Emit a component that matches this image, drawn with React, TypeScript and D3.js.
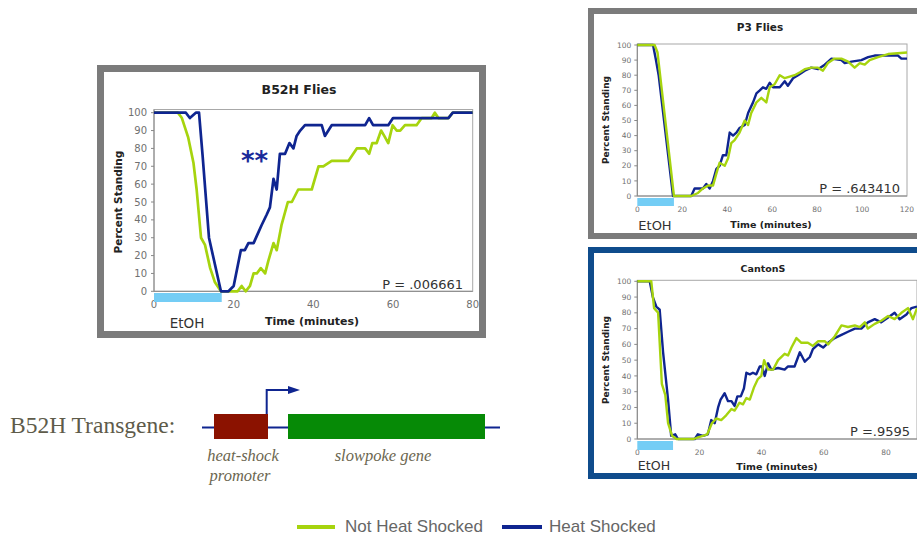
import * as d3 from "d3"
import { useEffect } from "react"

type Pt = [number, number]

// B52H flies
const b52hHeat: Pt[] = [[0,100],[8,100],[9,97],[10.5,100],[11.3,100],[12.2,76],[13.8,30],[16.8,0],[18.7,0],[20,3],[21.8,23],[22.8,23],[23.7,27],[25,27],[26.2,33],[27,37],[28.3,43],[29.1,47],[30,63],[30.8,57],[31.6,77],[32.9,77],[34,83],[35,80],[35.8,87],[36.7,90],[37.9,93],[42.1,93],[42.9,87],[44.6,93],[53,93],[54,97],[55,93],[58.8,93],[60,97],[73.9,97],[75,100],[80,100]]
const b52hNot: Pt[] = [[0,100],[6,100],[7,97],[8.6,86],[9.9,72],[10.7,57],[11.8,30],[12.8,26],[14.1,13],[15.3,5],[16.8,0],[21,0],[22,3],[23,0],[24.1,3],[25,10],[25.8,10],[26.8,13],[27.9,10],[28.7,17],[30,27],[30.8,23],[32,37],[33.6,50],[34.6,50],[36.2,57],[39.6,57],[41.3,70],[42.5,70],[44.6,73],[48.8,73],[50.9,80],[53,80],[54,77],[54.8,83],[55.9,83],[57,90],[57.8,87],[58.8,83],[59.9,93],[60.9,90],[61.8,90],[63,93],[65.9,93],[67.2,97],[69.7,97],[70.5,100],[71.4,97],[73.9,97],[75,100],[80,100]]

// P3 flies
const p3Heat: Pt[] = [[0,100],[7,100],[8.3,90],[9.5,80],[15.9,0],[24,0],[25.5,5],[27,5],[29.2,5],[30.7,8],[32.2,5],[33.7,10],[35.2,18],[36.6,20],[38.1,27],[39.6,27],[41.1,42],[42.6,40],[44.1,42],[45.5,45],[47.8,47],[49.3,55],[51.5,62],[53,68],[54.5,70],[55.9,72],[57.4,71],[58.9,75],[60.4,72],[63.4,72],[65.6,76],[67,73],[69.3,78],[71.5,80],[74.5,83],[77.4,85],[80.4,84],[83.4,87],[86.4,91],[90.8,90],[92.3,88],[95.3,89],[99.7,90],[102.7,92],[105.6,93],[111.6,93],[116,93],[117.5,91],[120,91]]
const p3Not: Pt[] = [[0,100],[7.7,100],[9,95],[16.3,0],[24,0],[27,2],[29.2,5],[31.5,7],[33.7,7],[35.2,15],[36.6,22],[38.9,20],[40.4,25],[41.8,35],[43.3,37],[45.5,42],[47.8,50],[49.3,47],[50.7,55],[53,62],[55.2,65],[57.4,62],[58.9,72],[61.1,74],[63.4,80],[65.6,78],[67.8,79],[70,80],[72.4,82],[74.5,84],[77.4,85],[80.4,85],[82.6,83],[84.8,88],[87.8,91],[90.8,91],[93.8,89],[96.7,85],[99,88],[101.2,87],[103.4,90],[107.1,92],[111.6,94],[120,95]]

// CantonS
const cantonHeat: Pt[] = [[0,100],[4,100],[5,90],[6.1,84],[7.2,82],[8.3,55],[9.9,25],[10.9,2],[12.2,3],[13.1,0],[18.5,0],[19.5,3],[21.1,2],[22.7,3],[23.8,12],[24.9,10],[26,20],[26.8,25],[28.1,29],[29.2,24],[30.3,24],[31.3,21],[32.2,27],[33.3,27],[34.3,32],[35.1,42],[36.2,41],[37.2,42],[38.3,41],[39.4,46],[40.1,46],[41,40],[42.1,48],[43.1,44],[45.3,45],[47.4,44],[48.5,46],[50.6,46],[52.3,55],[53.9,49],[55.5,52],[56.5,57],[58.2,60],[59.8,58],[61.4,61],[63.5,64],[65.7,66],[67.8,68],[70,70],[72.1,70],[74.2,74],[76.4,76],[78.5,74],[80.7,77],[82.8,80],[84.4,76],[86.6,79],[88.2,83],[90,84]]
const cantonNot: Pt[] = [[0,100],[4.5,100],[5.4,83],[6.7,80],[7.9,35],[9,28],[9.9,10],[11.2,2],[12.6,0],[18.2,0],[19.5,1],[21.1,2],[22.5,3],[24,10],[25.4,13],[27,12],[28.6,15],[30.3,19],[31.3,18],[32.9,23],[34,22],[35.1,26],[36.2,25],[37.6,33],[38.8,38],[39.9,40],[40.8,50],[42.1,44],[43.7,44],[45.3,50],[47.4,54],[48.5,53],[49.6,58],[51.2,64],[52.8,61],[54.9,61],[56.5,59],[58.2,62],[60.3,62],[61.4,60],[63.5,65],[65.7,72],[67.8,71],[70,72],[71.6,71],[73.2,74],[74.2,70],[76.4,73],[78.5,75],[80.7,78],[82.8,76],[85,80],[87.1,83],[88.7,76],[90,83]]

const yTicks = [0, 10, 20, 30, 40, 50, 60, 70, 80, 90, 100]
const b52hXTicks = [0, 20, 40, 60, 80]
const p3XTicks = [0, 20, 40, 60, 80, 100, 120]
const cantonXTicks = [0, 20, 40, 60, 80]

const GREEN = "#a6d40e"
const BLUE = "#0f2590"
const ETOH = "#74cdf5"
const SANS = "'DejaVu Sans', Verdana, sans-serif"
const SERIF = "'Liberation Serif', 'Times New Roman', serif"

type PanelProps = {
  title: string
  pText: string
  xMax: number
  xTicks: number[]
  x0: number
  x1: number
  y0: number
  y1: number
  frameTop: number
  etohEnd: number
  etohY: [number, number]
  heat: Pt[]
  not: Pt[]
  greenOnTop: boolean
  sw: number
  tickFs: number
  tickGap: number
  xTickY: number
  ylab: { x: number; y: number; fs: number }
  titlePos: { x: number; y: number; fs: number }
  xlab: { x: number; y: number; fs: number }
  etohText: { x: number; y: number; fs: number }
  pPos: { x: number; y: number; fs: number }
}

function Panel(p: PanelProps) {
  const x = d3.scaleLinear().domain([0, p.xMax]).range([p.x0, p.x1])
  const y = d3.scaleLinear().domain([0, 100]).range([p.y0, p.y1])
  const line = d3
    .line<Pt>()
    .x((d) => x(d[0]))
    .y((d) => y(d[1]))
  const blue = <path d={line(p.heat) ?? ""} fill="none" stroke={BLUE} strokeWidth={p.sw} strokeLinejoin="round" />
  const green = <path d={line(p.not) ?? ""} fill="none" stroke={GREEN} strokeWidth={p.sw} strokeLinejoin="round" />
  return (
    <g fontFamily={SANS}>
      <rect x={p.x0} y={p.frameTop} width={p.x1 - p.x0} height={p.y0 - p.frameTop} fill="#fff" stroke="#a8a8a8" strokeWidth={1} />
      <line x1={p.x0} x2={p.x0} y1={p.frameTop} y2={p.y0} stroke="#888" />
      <line x1={p.x0} x2={p.x1} y1={p.y0} y2={p.y0} stroke="#888" />
      {yTicks.map((t) => (
        <g key={"y" + t}>
          <line x1={p.x0 - 3} x2={p.x0} y1={y(t)} y2={y(t)} stroke="#888" />
          <text x={p.x0 - p.tickGap} y={y(t)} dy="0.35em" textAnchor="end" fontSize={p.tickFs} fill="#707070">
            {t}
          </text>
        </g>
      ))}
      {p.xTicks.map((t) => (
        <text key={"x" + t} x={x(t)} y={p.xTickY} dy="0.35em" textAnchor="middle" fontSize={p.tickFs} fill="#707070">
          {t}
        </text>
      ))}
      <rect x={x(0)} y={p.etohY[0]} width={x(p.etohEnd) - x(0)} height={p.etohY[1] - p.etohY[0]} fill={ETOH} />
      {p.greenOnTop ? [<g key="b">{blue}</g>, <g key="g">{green}</g>] : [<g key="g">{green}</g>, <g key="b">{blue}</g>]}
      <text x={p.titlePos.x} y={p.titlePos.y} dy="0.35em" textAnchor="middle" fontSize={p.titlePos.fs} fontWeight="bold" fill="#222">
        {p.title}
      </text>
      <text
        transform={`translate(${p.ylab.x},${p.ylab.y}) rotate(-90)`}
        dy="0.35em"
        textAnchor="middle"
        fontSize={p.ylab.fs}
        fontWeight="bold"
        fill="#222"
      >
        Percent Standing
      </text>
      <text x={p.xlab.x} y={p.xlab.y} dy="0.35em" textAnchor="middle" fontSize={p.xlab.fs} fontWeight="bold" fill="#222">
        Time (minutes)
      </text>
      <text x={p.etohText.x} y={p.etohText.y} dy="0.35em" textAnchor="middle" fontSize={p.etohText.fs} fill="#333">
        EtOH
      </text>
      <text x={p.pPos.x} y={p.pPos.y} dy="0.35em" textAnchor="end" fontSize={p.pPos.fs} fill="#333">
        {p.pText}
      </text>
    </g>
  )
}

export default function App() {
  useEffect(() => {
    document.body.style.margin = "0"
  }, [])

  return (
    <svg width={917} height={535} style={{ position: "absolute", left: 0, top: 0, background: "#fff" }}>
      {/* panel frames */}
      <rect x={100.5} y={68.5} width={382} height={266} fill="#fff" stroke="#7b7b7b" strokeWidth={7} />
      <rect x={591} y={11} width={340} height={225} fill="#fff" stroke="#7b7b7b" strokeWidth={6} />
      <rect x={591} y={250} width={340} height={226} fill="#fff" stroke="#0f4c8c" strokeWidth={6} />

      <Panel
        title="B52H Flies"
        pText="P = .006661"
        xMax={80}
        xTicks={b52hXTicks}
        x0={154}
        x1={472.7}
        y0={291.3}
        y1={112.7}
        frameTop={109.5}
        etohEnd={17}
        etohY={[293, 302]}
        heat={b52hHeat}
        not={b52hNot}
        greenOnTop={false}
        sw={2.7}
        tickFs={10}
        tickGap={7}
        xTickY={304}
        ylab={{ x: 118, y: 202, fs: 10.5 }}
        titlePos={{ x: 299, y: 90, fs: 12.5 }}
        xlab={{ x: 312, y: 321, fs: 11 }}
        etohText={{ x: 187, y: 323, fs: 13.5 }}
        pPos={{ x: 463, y: 284, fs: 13 }}
      />
      <text x={241} y={170} fontFamily={SANS} fontSize={26} fontWeight="bold" fill="#1a2a9a">
        **
      </text>

      <Panel
        title="P3 Flies"
        pText="P = .643410"
        xMax={120}
        xTicks={p3XTicks}
        x0={637.3}
        x1={907}
        y0={196}
        y1={45}
        frameTop={44}
        etohEnd={16.3}
        etohY={[198, 206]}
        heat={p3Heat}
        not={p3Not}
        greenOnTop={true}
        sw={2.4}
        tickFs={7.5}
        tickGap={6}
        xTickY={209}
        ylab={{ x: 606, y: 120, fs: 9 }}
        titlePos={{ x: 760, y: 27, fs: 10.5 }}
        xlab={{ x: 771, y: 225, fs: 9.5 }}
        etohText={{ x: 655, y: 225, fs: 13 }}
        pPos={{ x: 900, y: 188, fs: 13 }}
      />

      <Panel
        title="CantonS"
        pText="P =.9595"
        xMax={90}
        xTicks={cantonXTicks}
        x0={637.3}
        x1={917}
        y0={439}
        y1={281.3}
        frameTop={280.3}
        etohEnd={11.5}
        etohY={[441, 450]}
        heat={cantonHeat}
        not={cantonNot}
        greenOnTop={true}
        sw={2.4}
        tickFs={7.5}
        tickGap={6}
        xTickY={452}
        ylab={{ x: 606, y: 360, fs: 9 }}
        titlePos={{ x: 763, y: 269, fs: 9.5 }}
        xlab={{ x: 777, y: 467, fs: 9.5 }}
        etohText={{ x: 654, y: 466, fs: 12.6 }}
        pPos={{ x: 910, y: 431, fs: 13 }}
      />

      {/* transgene diagram */}
      <g fontFamily={SERIF}>
        <text x={10} y={433} fontSize={23.5} fill="#5e5b4a">
          B52H Transgene:
        </text>
        <line x1={202} x2={500} y1={427.5} y2={427.5} stroke={BLUE} strokeWidth={2} />
        <rect x={214} y={414} width={54} height={25} fill="#8b1200" />
        <rect x={288} y={414} width={197} height={25} fill="#068a06" />
        <path d="M266.7,414 V390 H290" fill="none" stroke={BLUE} strokeWidth={2} />
        <path d="M288,386 L300,390 L288,394 Z" fill={BLUE} />
        <text x={243} y={461} textAnchor="middle" fontSize={16.5} fontStyle="italic" fill="#6b6650">
          heat-shock
        </text>
        <text x={240} y={481} textAnchor="middle" fontSize={16.5} fontStyle="italic" fill="#6b6650">
          promoter
        </text>
        <text x={383} y={461} textAnchor="middle" fontSize={16.5} fontStyle="italic" fill="#6b6650">
          slowpoke gene
        </text>
      </g>

      {/* legend */}
      <g fontFamily="'Liberation Sans', Arial, sans-serif" fontSize={17} fill="#666">
        <line x1={297} x2={335} y1={527} y2={527} stroke={GREEN} strokeWidth={4} />
        <text x={345} y={532}>Not Heat Shocked</text>
        <line x1={502} x2={542} y1={527} y2={527} stroke={BLUE} strokeWidth={4} />
        <text x={549} y={532}>Heat Shocked</text>
      </g>
    </svg>
  )
}
